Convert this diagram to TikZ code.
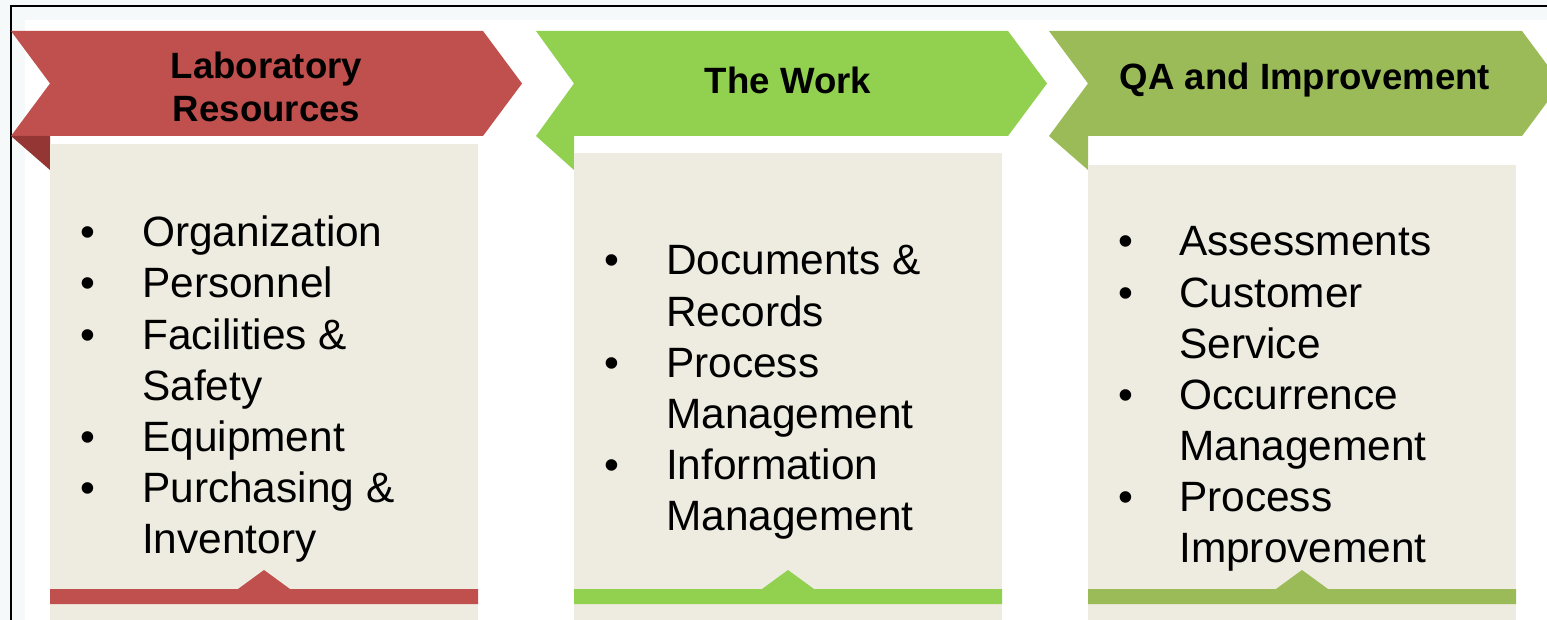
\documentclass[tikz,border=0pt]{standalone}
\usepackage{fontspec}
\setmainfont{Liberation Sans}
\definecolor{cred}{HTML}{C0504D}
\definecolor{cdred}{HTML}{943634}
\definecolor{cgreen}{HTML}{92D050}
\definecolor{colive}{HTML}{9BBB59}
\definecolor{cbox}{HTML}{EEECE1}
\definecolor{cbg}{HTML}{F6F9FA}
\tikzset{
  hdr/.style={inner sep=0pt, align=center, text=black, font=\fontsize{36.6}{43}\selectfont\bfseries},
  itm/.style={inner sep=0pt, anchor=base west, text=black, font=\fontsize{42.4}{51}\selectfont},
  bul/.style={inner sep=0pt, anchor=base, text=black, font=\fontsize{42.4}{51}\selectfont},
  boxfill/.style={fill=cbox},
}
\begin{document}
\begin{tikzpicture}[x=1pt,y=-1pt]
\useasboundingbox (0,0) rectangle (1547,620);
\clip (0,0) rectangle (1547,620);
\fill[cbg] (0,0) rectangle (1547,620);
\fill[white] (25,20) rectangle (1547,620);
\draw[line width=1.6pt] (11,620) -- (11,6) -- (1547,6);

% ---------- panel 1 ----------
\fill[cred] (11,31) -- (483,31) -- (522,83.5) -- (483,136) -- (11,136) -- (50,83.5) -- cycle;
\fill[cdred] (11,136) -- (50,136) -- (50,170) -- cycle;
\fill[boxfill] (50,144) rectangle (478,620);
\fill[cred] (50,589) -- (238,589) -- (264,570) -- (290,589) -- (478,589) -- (478,604) -- (50,604) -- cycle;
\node[hdr] (h1) at (266.5,87) {Laboratory\\Resources};
\node[bul] (p1b1) at (88,247) {•};
\node[itm] (p1i1) at (142,247) {Organization};
\node[bul] (p1b2) at (88,298) {•};
\node[itm] (p1i2) at (142,298) {Personnel};
\node[bul] (p1b3) at (88,349) {•};
\node[itm] (p1i3) at (142,349) {Facilities \&};
\node[itm] (p1i3b) at (142,400) {Safety};
\node[bul] (p1b4) at (88,451) {•};
\node[itm] (p1i4) at (142,451) {Equipment};
\node[bul] (p1b5) at (88,502) {•};
\node[itm] (p1i5) at (142,502) {Purchasing \&};
\node[itm] (p1i5b) at (142,553) {Inventory};

% ---------- panel 2 ----------
\fill[cgreen] (536,31) -- (1008,31) -- (1047,83.5) -- (1008,136) -- (536,136) -- (574,83.5) -- cycle;
\fill[cgreen] (536,136) -- (574,136) -- (574,170) -- cycle;
\fill[boxfill] (574,153) rectangle (1002,620);
\fill[cgreen] (574,589) -- (762,589) -- (788,570) -- (814,589) -- (1002,589) -- (1002,604) -- (574,604) -- cycle;
\node[hdr] (h2) at (788,80) {The Work};
\node[bul] (p2b1) at (612,275) {•};
\node[itm] (p2i1) at (666,275) {Documents \&};
\node[itm] (p2i1b) at (666,326) {Records};
\node[bul] (p2b2) at (612,377) {•};
\node[itm] (p2i2) at (666,377) {Process};
\node[itm] (p2i2b) at (666,428) {Management};
\node[bul] (p2b3) at (612,479) {•};
\node[itm] (p2i3) at (666,479) {Information};
\node[itm] (p2i3b) at (666,530) {Management};

% ---------- panel 3 ----------
\fill[colive] (1049,31) -- (1522,31) -- (1561,83.5) -- (1522,136) -- (1049,136) -- (1088,83.5) -- cycle;
\fill[colive] (1049,136) -- (1088,136) -- (1088,170) -- cycle;
\fill[boxfill] (1088,165) rectangle (1516,620);
\fill[colive] (1088,589) -- (1276,589) -- (1302,570) -- (1328,589) -- (1516,589) -- (1516,604) -- (1088,604) -- cycle;
\node[hdr] (h3) at (1305,80) {QA and Improvement};
\node[bul] (p3b1) at (1126,256) {•};
\node[itm] (p3i1) at (1179,256) {Assessments};
\node[bul] (p3b2) at (1126,307) {•};
\node[itm] (p3i2) at (1179,307) {Customer};
\node[itm] (p3i2b) at (1179,358) {Service};
\node[bul] (p3b3) at (1126,409) {•};
\node[itm] (p3i3) at (1179,409) {Occurrence};
\node[itm] (p3i3b) at (1179,460) {Management};
\node[bul] (p3b4) at (1126,511) {•};
\node[itm] (p3i4) at (1179,511) {Process};
\node[itm] (p3i4b) at (1179,562) {Improvement};
\end{tikzpicture}
\end{document}
